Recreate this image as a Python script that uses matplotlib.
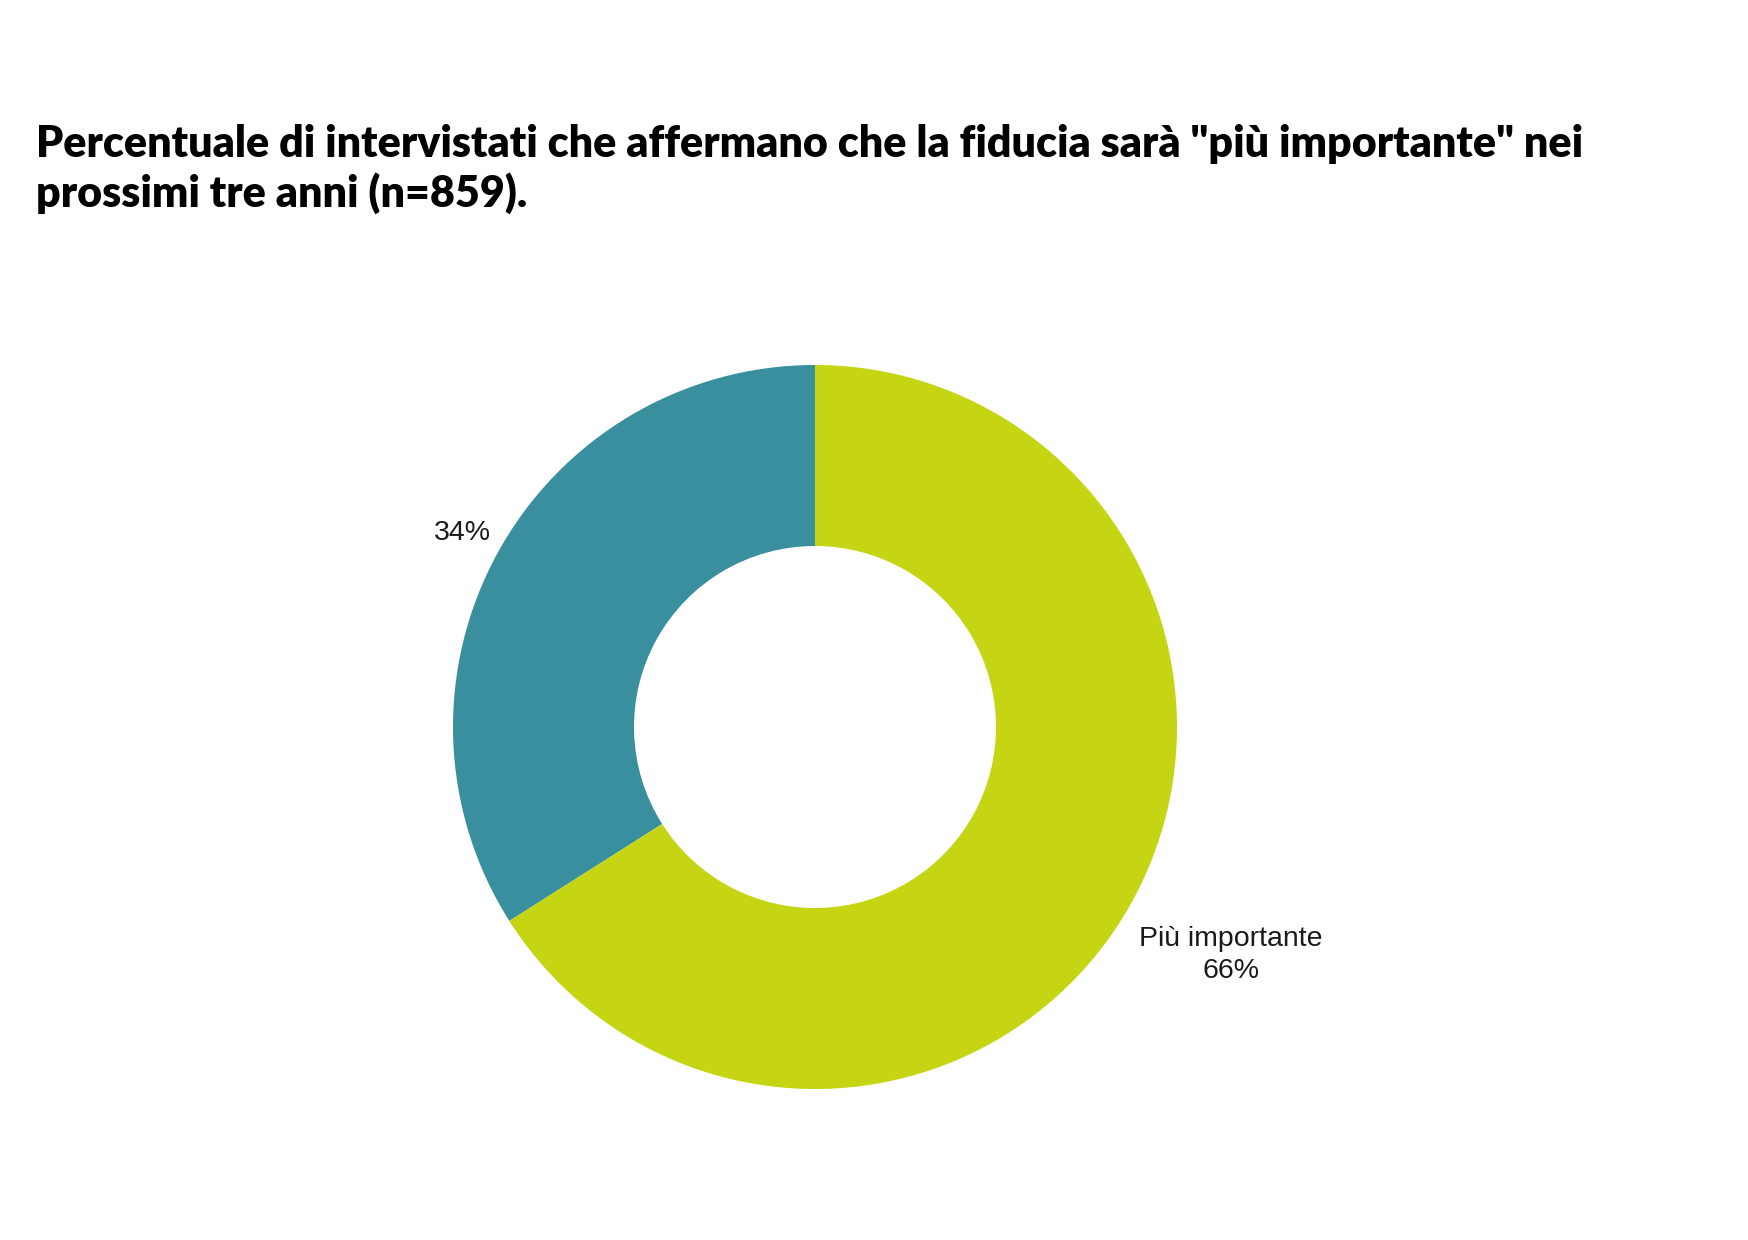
import numpy as np
import matplotlib
matplotlib.use('Agg')
import matplotlib.pyplot as plt

# data
categorie = ['', 'Più importante']
valori = [34, 66]
colori = ['#3A8F9E', '#C5D513']
titolo = 'Percentuale di intervistati che affermano che la fiducia sarà "più importante" nei\nprossimi tre anni (n=859).'

W, H = 1748, 1240
fig = plt.figure(figsize=(W / 100, H / 100), dpi=100)

# centro e raggio della ciambella in pixel
cx, cy, r = 815, 727, 362
ax = fig.add_axes([(cx - r) / W, (H - cy - r) / H, 2 * r / W, 2 * r / H])

wedges, _ = ax.pie(valori, colors=colori, startangle=90, counterclock=True,
                   radius=1, wedgeprops=dict(width=0.5, linewidth=0))
ax.set_xlim(-1, 1)
ax.set_ylim(-1, 1)
ax.set_aspect('equal')
ax.axis('off')

# etichette esterne
dist = [1.11, 1.31]
for w, cat, v, d in zip(wedges, categorie, valori, dist):
    ang = np.deg2rad((w.theta1 + w.theta2) / 2)
    testo = f'{v}%' if cat == '' else f'{cat}\n{v}%'
    ax.text(d * np.cos(ang), d * np.sin(ang), testo, ha='center', va='center',
            fontsize=20.5, family='Liberation Sans', color='#1a1a1a', linespacing=1.3)

fig.text(36 / W, 1 - 124 / H, titolo, ha='left', va='top', fontsize=31,
         fontweight='heavy', family=['Lato', 'DejaVu Sans'], color='#000000',
         linespacing=1.22)

fig.savefig('out.png', dpi=100, facecolor='white')
